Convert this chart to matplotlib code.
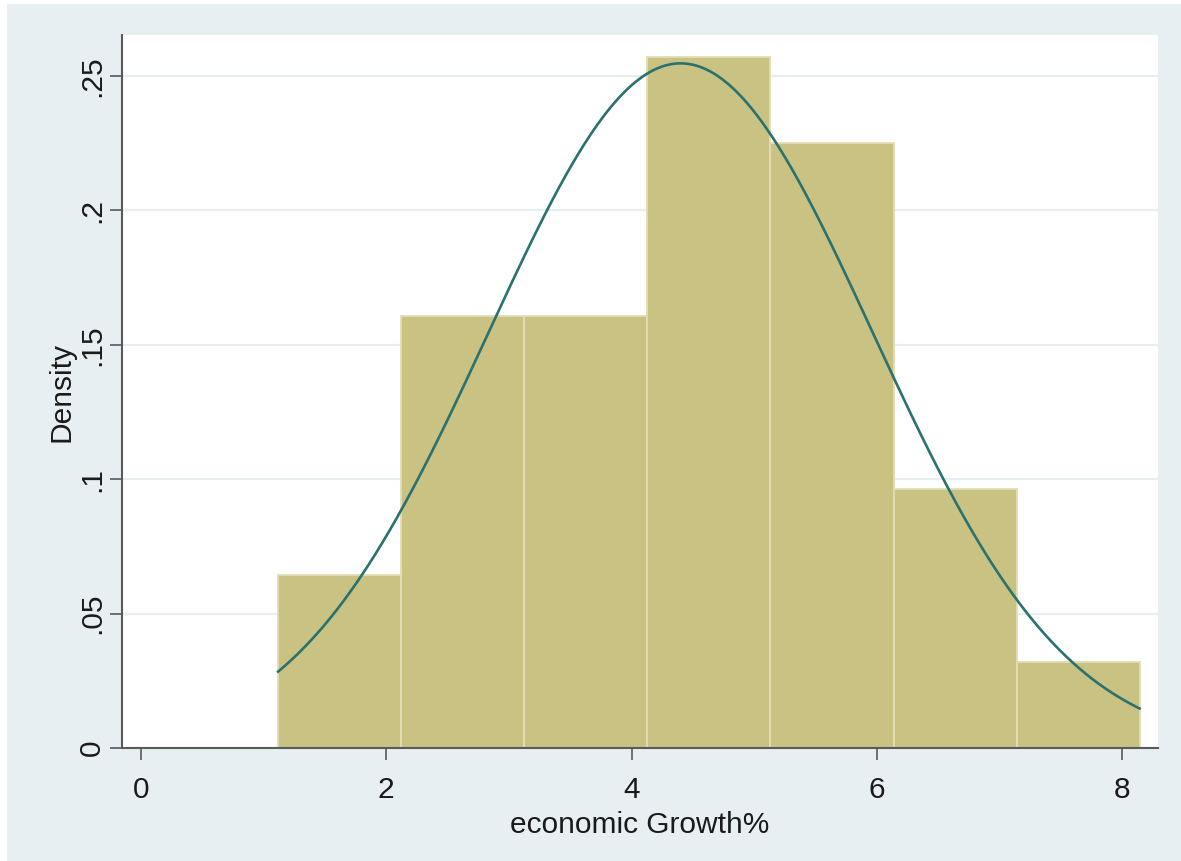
import numpy as np
import matplotlib
matplotlib.use("Agg")
import matplotlib.pyplot as plt
from matplotlib.patches import Rectangle

plt.rcParams['font.family'] = ['Liberation Sans', 'DejaVu Sans']

# histogram data (Stata style: density, 7 bins)
bin_start = 1.12
bin_width = 1.003
counts = [2, 5, 5, 8, 7, 3, 1]
n_obs = 31

# normal fit
mu = 4.40
sd = 1.566
x_min, x_max = 1.12, 8.14

yticks = [0, 0.05, 0.10, 0.15, 0.20, 0.25]
ytick_labels = ['0', '.05', '.1', '.15', '.2', '.25']
xticks = [0, 2, 4, 6, 8]

BG = '#e8eff2'
BAR = '#c9c282'
BAR_EDGE = '#e2ddb4'
LINE = '#2a716f'
GRID = '#e6eef1'
AXIS = '#5a5a5a'

fig = plt.figure(figsize=(11.81, 8.61), dpi=100, facecolor='white')
fig.patches.append(Rectangle((7 / 1181, 0), 1, 1 - 4 / 861, transform=fig.transFigure,
                             facecolor=BG, edgecolor='none', zorder=-10))

ax = fig.add_axes([122 / 1181, 1 - 748 / 861, (1158 - 122) / 1181, (748 - 35) / 861])
ax.set_facecolor('white')

lefts = [bin_start + i * bin_width for i in range(len(counts))]
heights = [c / (n_obs * bin_width) for c in counts]
ax.bar(lefts, heights, width=bin_width, align='edge', color=BAR,
       edgecolor=BAR_EDGE, linewidth=1.3, zorder=2)

xs = np.linspace(x_min, x_max, 400)
ys = np.exp(-0.5 * ((xs - mu) / sd) ** 2) / (sd * np.sqrt(2 * np.pi))
ax.plot(xs, ys, color=LINE, linewidth=1.9, zorder=3)

ax.set_xlim(-0.152, 8.29)
ax.set_ylim(0, 0.2653)

ax.set_yticks(yticks)
ax.set_yticklabels(ytick_labels, rotation=90, va='center')
ax.set_xticks(xticks)
ax.set_xticklabels([str(t) for t in xticks])

for y in yticks[1:]:
    ax.axhline(y, color=GRID, linewidth=1.6, zorder=1)

for s in ['top', 'right']:
    ax.spines[s].set_visible(False)
for s in ['left', 'bottom']:
    ax.spines[s].set_color(AXIS)
    ax.spines[s].set_linewidth(1.5)
    ax.spines[s].set_zorder(4)

ax.tick_params(axis='both', direction='out', length=8.5, width=1.2, color=AXIS,
               labelsize=21.5, labelcolor='#1a1a1a')
ax.tick_params(axis='x', pad=12)
ax.tick_params(axis='y', pad=3)

ax.set_xlabel('economic Growth%', fontsize=21.5, color='#1a1a1a', labelpad=4.5)
ax.set_ylabel('Density', fontsize=21.5, color='#1a1a1a', labelpad=2)

fig.savefig('out.png', dpi=100, facecolor=fig.get_facecolor())
